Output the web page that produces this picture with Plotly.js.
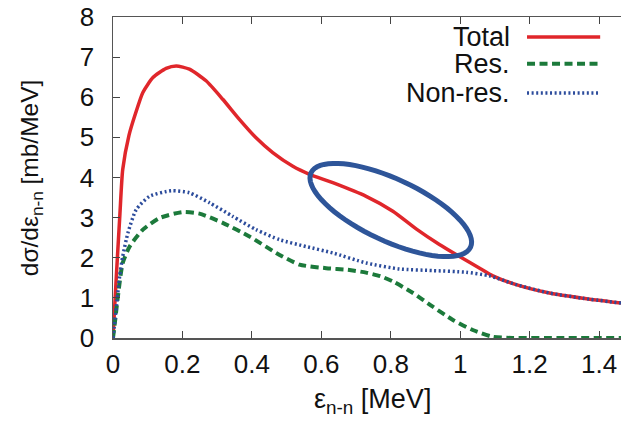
<!DOCTYPE html>
<html>
<head>
<meta charset="utf-8">
<script src="https://cdn.plot.ly/plotly-3.0.1.min.js"></script>
<style>html,body{margin:0;padding:0;background:#fff;}#chart{width:621px;height:424px;}</style>
</head>
<body>
<div id="chart"></div>
<script>
// ---- data ----
var totalX = [0, 0.01, 0.02, 0.028, 0.046, 0.065, 0.086, 0.115, 0.153, 0.182, 0.22, 0.268, 0.316, 0.364, 0.412, 0.46, 0.518, 0.566, 0.633, 0.729, 0.806, 0.873, 0.94, 0.998, 1.056, 1.094, 1.161, 1.257, 1.353, 1.463];
var totalY = [0, 1.6, 3.1, 4.2, 5.05, 5.6, 6.12, 6.49, 6.72, 6.78, 6.70, 6.41, 5.95, 5.45, 4.99, 4.62, 4.28, 4.08, 3.87, 3.53, 3.16, 2.72, 2.33, 2.03, 1.74, 1.55, 1.33, 1.12, 0.99, 0.87];

var resX = [0, 0.007, 0.014, 0.028, 0.048, 0.086, 0.134, 0.201, 0.249, 0.316, 0.393, 0.47, 0.537, 0.614, 0.676, 0.729, 0.77, 0.806, 0.864, 0.921, 0.979, 1.036, 1.094, 1.15, 1.3, 1.463];
var resY = [0, 0.5, 1.03, 1.87, 2.28, 2.7, 2.99, 3.14, 3.1, 2.87, 2.53, 2.12, 1.83, 1.74, 1.7, 1.63, 1.54, 1.41, 1.12, 0.78, 0.45, 0.2, 0.03, 0, 0, 0];

var nonresX = [0, 0.01, 0.019, 0.028, 0.043, 0.067, 0.105, 0.168, 0.22, 0.278, 0.345, 0.412, 0.48, 0.556, 0.633, 0.729, 0.825, 0.921, 1.017, 1.084, 1.161, 1.257, 1.353, 1.463];
var nonresY = [0, 0.8, 1.53, 2.03, 2.62, 3.2, 3.53, 3.67, 3.62, 3.37, 3.03, 2.7, 2.45, 2.28, 2.12, 1.87, 1.72, 1.68, 1.64, 1.55, 1.33, 1.12, 0.99, 0.87];

var seriesNames = ["Total", "Res.", "Non-res."];
var xTickVals = [0, 0.2, 0.4, 0.6, 0.8, 1, 1.2, 1.4];
var yTickVals = [0, 1, 2, 3, 4, 5, 6, 7, 8];
var xTitle = "ε<sub>n-n</sub> [MeV]";
var yTitle = "dσ/dε<sub>n-n</sub> [mb/MeV]";

// ---- styling / layout constants ----
var W = 621, H = 424;
var M = {l: 113, r: 0, t: 17, b: 86};
var xRange = [0, 1.463], yRange = [0, 8];
var colors = ["#e0262b", "#1c7a3b", "#2c4c9c"];
var font = "Liberation Sans";

var plotW = W - M.l - M.r, plotH = H - M.t - M.b;
var pxPerX = plotW / (xRange[1] - xRange[0]);
var pxPerY = plotH / (yRange[1] - yRange[0]);

// highlight ellipse (annotation): center in data units, semi-axes in px, tilt in degrees
var ell = {cx: 0.80, cy: 3.19, a: 88, b: 31, deg: 25};
function ellipsePath(e) {
  var th = e.deg * Math.PI / 180, p = "";
  for (var i = 0; i <= 72; i++) {
    var t = i / 72 * 2 * Math.PI;
    var dx = e.a * Math.cos(t) * Math.cos(th) - e.b * Math.sin(t) * Math.sin(th);
    var dy = e.a * Math.cos(t) * Math.sin(th) + e.b * Math.sin(t) * Math.cos(th);
    var x = e.cx + dx / pxPerX, y = e.cy - dy / pxPerY;
    p += (i === 0 ? "M" : "L") + x.toFixed(5) + "," + y.toFixed(5);
  }
  return p + "Z";
}

var dashes = ["solid", "8px,4.5px", "2px,2.6px"];
var widths = [3.5, 4, 3.5];
var xs = [totalX, resX, nonresX], ys = [totalY, resY, nonresY];
var traces = [];
for (var k = 0; k < 3; k++) {
  traces.push({x: xs[k], y: ys[k], name: seriesNames[k], mode: "lines",
    line: {color: colors[k], width: widths[k], dash: dashes[k], shape: "spline", smoothing: 0.6}});
}

// legend (text right-aligned, sample on the right)
var legY = [0.938, 0.854, 0.763];
var annotations = [], shapes = [];
for (var i = 0; i < 3; i++) {
  annotations.push({xref: "paper", yref: "paper", x: 0.783, y: legY[i], xanchor: "right", yanchor: "middle",
    height: 26, valign: "middle", borderpad: 0,
    text: seriesNames[i], showarrow: false, font: {family: font, size: 27, color: "#111"}});
  shapes.push({type: "line", xref: "paper", yref: "paper", x0: 0.815, x1: 0.959, y0: legY[i], y1: legY[i],
    line: {color: colors[i], width: widths[i], dash: dashes[i]}});
}
shapes.push({type: "path", xref: "x", yref: "y", path: ellipsePath(ell), line: {color: "#2e5599", width: 5}});

// axis titles as annotations for exact placement
annotations.push({xref: "paper", yref: "paper", x: 0.51, y: -0.195, xanchor: "center", yanchor: "middle",
  text: xTitle, showarrow: false, font: {family: font, size: 27, color: "#111"}});
annotations.push({xref: "paper", yref: "paper", x: -0.16, y: 0.5, xanchor: "center", yanchor: "middle",
  textangle: -90, text: yTitle, showarrow: false, font: {family: font, size: 24.5, color: "#111"}});

var axisCommon = {
  showgrid: false, zeroline: false, showline: true, linecolor: "#555", linewidth: 1.5,
  ticks: "inside", ticklen: 7, tickwidth: 1.2, tickcolor: "#444",
  tickfont: {family: font, size: 26, color: "#111"}
};

var layout = {
  width: W, height: H, margin: M, showlegend: false,
  paper_bgcolor: "#fff", plot_bgcolor: "#fff",
  xaxis: Object.assign({}, axisCommon, {range: xRange, tickvals: xTickVals, mirror: "ticks", ticklabelstandoff: 2}),
  yaxis: Object.assign({}, axisCommon, {range: yRange, tickvals: yTickVals, mirror: false, ticklabelstandoff: 12}),
  annotations: annotations, shapes: shapes
};

Plotly.newPlot("chart", traces, layout, {staticPlot: true, displayModeBar: false});
</script>
</body>
</html>
